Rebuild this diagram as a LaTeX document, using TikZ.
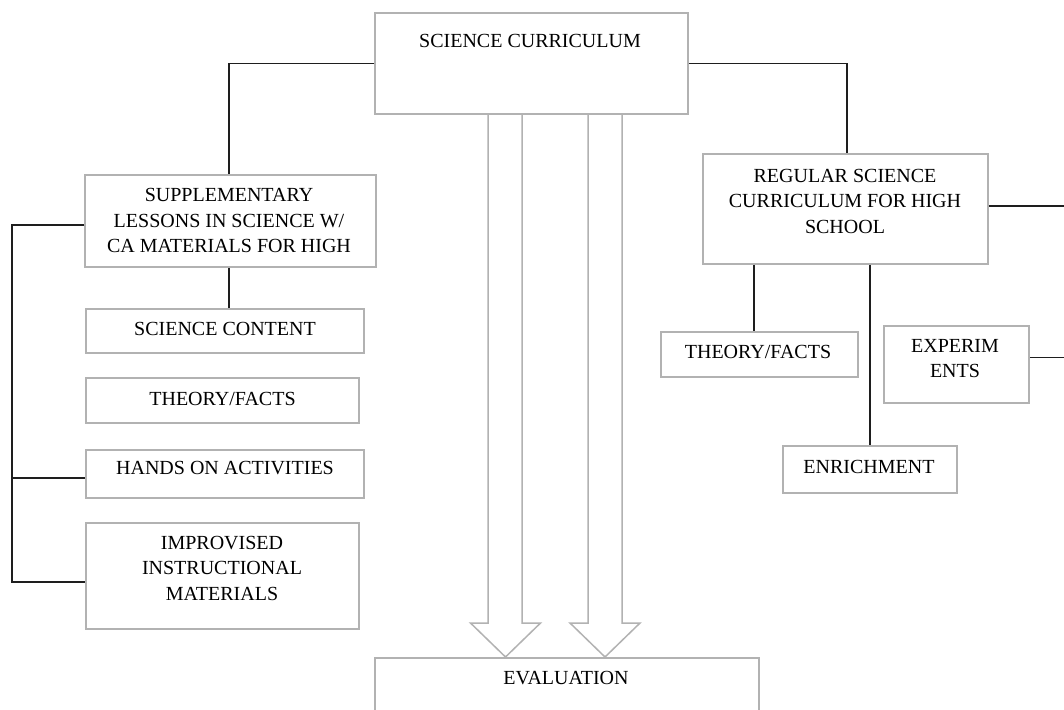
\documentclass[tikz,border=0pt]{standalone}
\usepackage{fontspec}
\setmainfont{Liberation Serif}
\usetikzlibrary{calc}
\definecolor{boxgray}{RGB}{178,178,178}
\definecolor{linedark}{RGB}{30,30,30}
\begin{document}
\begin{tikzpicture}[x=1pt,y=-1pt,
  box/.style={draw=boxgray,line width=1.5pt,rectangle,inner sep=0pt,fill=white},
  txt/.style={inner sep=0pt,align=center,font=\fontsize{20}{25.5}\selectfont},
  conn/.style={draw=linedark,line width=1.5pt},
  hollow/.style={draw=boxgray,line width=1.5pt,fill=white,line join=miter}
]
\useasboundingbox (0,0) rectangle (1064,709);
\clip (0,0) rectangle (1064,709);
\fill[white] (0,0) rectangle (1064,709);

% boxes (corners in pixel coordinates)
\node[box,minimum width=313pt,minimum height=101pt] (root) at (531.5,63.5) {};
\node[box,minimum width=291pt,minimum height=92pt] (supp) at (230.5,221) {};
\node[box,minimum width=278pt,minimum height=44pt] (content) at (225,331) {};
\node[box,minimum width=273pt,minimum height=45pt] (theoryL) at (222.5,400.5) {};
\node[box,minimum width=278pt,minimum height=48pt] (hands) at (225,474) {};
\node[box,minimum width=273pt,minimum height=106pt] (improv) at (222.5,576) {};
\node[box,minimum width=285pt,minimum height=110pt] (regular) at (845.5,209) {};
\node[box,minimum width=197pt,minimum height=45pt] (theoryR) at (759.5,354.5) {};
\node[box,minimum width=145pt,minimum height=77pt] (experim) at (956.5,364.5) {};
\node[box,minimum width=174pt,minimum height=47pt] (enrich) at (870,469.5) {};
\node[box,minimum width=384pt,minimum height=90pt] (eval) at (567,703) {};

% texts
\node[txt] (rootT) at (530,41) {SCIENCE CURRICULUM};
\node[txt] (suppT) at (229,220.5) {SUPPLEMENTARY\\LESSONS IN SCIENCE W/\\CA MATERIALS FOR HIGH};
\node[txt,text depth=0pt] (contentT) at (225,329) {SCIENCE CONTENT};
\node[txt,text depth=0pt] (theoryLT) at (222.5,399) {THEORY/FACTS};
\node[txt,text depth=0pt] (handsT) at (225,468) {HANDS ON ACTIVITIES};
\node[txt] (improvT) at (222,568) {IMPROVISED\\INSTRUCTIONAL\\MATERIALS};
\node[txt] (regularT) at (845,201) {REGULAR SCIENCE\\CURRICULUM FOR HIGH\\SCHOOL};
\node[txt,text depth=0pt] (theoryRT) at (758,352) {THEORY/FACTS};
\node[txt] (experimT) at (955,358.5) {EXPERIM\\ENTS};
\node[txt,text depth=0pt] (enrichT) at (869,467) {ENRICHMENT};
\node[txt,text depth=0pt] (evalT) at (566,678) {EVALUATION};

% edge helpers
\coordinate (bk) at (12,0);
\coordinate (edgeR) at (1064,0);

% connectors
\draw[conn] (root.west) -| ([xshift=-1.5pt]supp.north);
\draw[conn] (root.east) -| ([xshift=1.5pt]regular.north);
\draw[conn] ([xshift=-1.5pt]supp.south) -- ([xshift=-1.5pt]supp.south |- content.north);
\draw[conn] ([yshift=-4pt]supp.west) -| ([yshift=-6pt]improv.west -| bk) -- ([yshift=-6pt]improv.west);
\draw[conn] ([yshift=-4pt]hands.west -| bk) -- ([yshift=-4pt]hands.west);
\draw[conn] ([yshift=3pt]regular.east) -- ([yshift=3pt]regular.east -| edgeR);
\draw[conn] ([xshift=-5.5pt]theoryR.north |- regular.south) -- ([xshift=-5.5pt]theoryR.north);
\draw[conn] (enrich.north |- regular.south) -- (enrich.north);
\draw[conn] ([yshift=7pt]experim.east) -- ([yshift=7pt]experim.east -| edgeR);

% hollow block arrows from root to evaluation
\draw[hollow] (488,114) -- (522,114) -- (522,623) -- (540.5,623) -- (505.5,657)
  -- (470.5,623) -- (488,623) -- cycle;
\draw[hollow] (588,114) -- (622,114) -- (622,623) -- (640,623) -- (605,657)
  -- (570,623) -- (588,623) -- cycle;
\end{tikzpicture}
\end{document}
